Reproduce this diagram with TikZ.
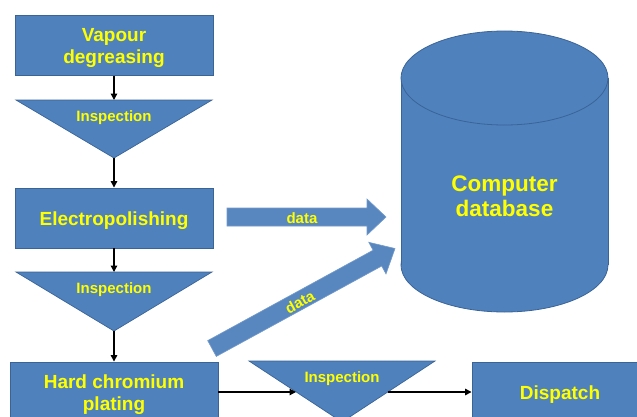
\documentclass[tikz,border=0pt]{standalone}
\usepackage{fontspec}
\setmainfont{Liberation Sans}
\usetikzlibrary{arrows.meta}
\definecolor{boxfill}{HTML}{4F81BD}
\definecolor{boxline}{HTML}{3A6496}
\definecolor{txt}{HTML}{FFFF00}
\begin{document}
\begin{tikzpicture}[x=1pt,y=-1pt,
  proc/.style={draw=boxline,fill=boxfill,line width=0.9pt,minimum width=198pt,minimum height=60pt,inner sep=0pt},
  proctxt/.style={text=txt,font=\fontsize{19}{21.5}\selectfont\bfseries,align=center,inner sep=0pt,yshift=-2.5pt},
  insp/.style={draw=boxline,fill=boxfill,line width=0.7pt},
  smalltxt/.style={text=txt,font=\fontsize{15}{17}\selectfont\bfseries,inner sep=0pt},
  flow/.style={line width=1.3pt,-{Triangle[length=6.5pt,width=6.5pt]}},
  blockarr/.style={fill=boxfill!95!white,draw=boxfill!80!white,line width=0.6pt}]
\useasboundingbox (0,0) rectangle (637,416);
\clip (0,0) rectangle (637,416);
\fill[white] (0,0) rectangle (637,416);

% process boxes
\node[proc,label={[proctxt]center:Vapour\\degreasing}] (vd) at (114,45.5) {};
\node[proc,label={[proctxt]center:Electropolishing}] (ep) at (114,218) {};
\node[proc,minimum width=208pt,label={[proctxt]center:Hard chromium\\plating}] (hc) at (114,392) {};
\node[proc,minimum width=176pt,label={[proctxt]center:Dispatch}] (dp) at (560,392) {};

% inspection triangles
\coordinate (t1top) at (114,100); \coordinate (t1apex) at (114,158);
\draw[insp] (16,100) -- (212,100) -- (t1apex) -- cycle;
\node[smalltxt] (i1) at (114,118) {Inspection};
\coordinate (t2top) at (114,272); \coordinate (t2apex) at (114,331);
\draw[insp] (16,272) -- (212,272) -- (t2apex) -- cycle;
\node[smalltxt] (i2) at (114,290) {Inspection};
\coordinate (t3left) at (296,392); \coordinate (t3right) at (388,392);
\draw[insp] (249,361) -- (435,361) -- (342,422) -- cycle;
\node[smalltxt] (i3) at (342,379) {Inspection};

% database cylinder
\draw[insp,line width=0.8pt] (504.5,265) ellipse [x radius=103.5,y radius=47];
\fill[boxfill] (401,78) rectangle (608,265);
\draw[boxline,line width=0.8pt] (401,78) -- (401,265) (608,78) -- (608,265);
\draw[insp,line width=0.8pt] (504.5,78) ellipse [x radius=103.5,y radius=47];
\node[text=txt,font=\fontsize{22.5}{25}\selectfont\bfseries,align=center] (db) at (504.5,196.5) {Computer\\database};

% flow connectors
\draw[flow] (vd.south) -- (t1top);
\draw[flow] (t1apex) -- (ep.north);
\draw[flow] (ep.south) -- (t2top);
\draw[flow] (t2apex) -- (hc.north);
\draw[flow] (hc.east) -- (t3left);
\draw[flow] (t3right) -- (dp.west);

% data block arrows
\draw[blockarr] (227,208) -- (367,208) -- (367,199) -- (386,217) -- (367,235) -- (367,226) -- (227,226) -- cycle;
\node[smalltxt] (d1) at (302,218) {data};
\draw[blockarr] (207.7,340.6) -- (373.1,250.2) -- (368.8,242.3) -- (395,248.5) -- (386.0,273.9) -- (381.7,266.0) -- (216.3,356.4) -- cycle;
\node[smalltxt,rotate=28.6] (d2) at (299.8,302) {data};
\end{tikzpicture}
\end{document}
